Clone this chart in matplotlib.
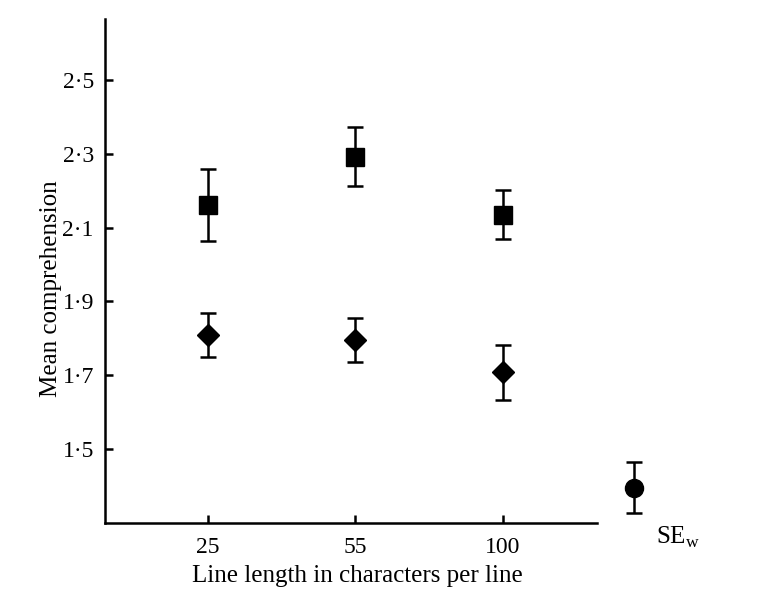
import matplotlib.pyplot as plt
import numpy as np

plt.rcParams['font.family'] = ['Liberation Serif', 'DejaVu Serif']
plt.rcParams['mathtext.fontset'] = 'custom'
plt.rcParams['mathtext.rm'] = 'Liberation Serif'

line_lengths = ['25', '55', '100']
square_means = [2.162, 2.292, 2.135]
square_err = [0.097, 0.08, 0.066]
diamond_means = [1.810, 1.796, 1.708]
diamond_err = [0.06, 0.06, 0.075]
sew_mean = 1.395
sew_err = 0.07

y_ticks = [1.5, 1.7, 1.9, 2.1, 2.3, 2.5]
y_tick_labels = ['1·5', '1·7', '1·9', '2·1', '2·3', '2·5']

fig = plt.figure(figsize=(7.68, 6.06), dpi=100)
ax = fig.add_axes([0.1367, 0.1375, 0.777 - 0.1367, 0.968 - 0.1375])

x = np.arange(len(line_lengths))
ekw = dict(fmt='none', ecolor='black', elinewidth=1.8, capsize=6, capthick=1.8)

ax.errorbar(x, square_means, yerr=square_err, **ekw)
ax.plot(x, square_means, 's', color='black', markersize=12.5, linestyle='none')
ax.errorbar(x, diamond_means, yerr=diamond_err, **ekw)
ax.plot(x, diamond_means, 'D', color='black', markersize=11.5, linestyle='none')

# within-subject SE marker sits outside the axes
sew_x = 2.89
eb = ax.errorbar([sew_x], [sew_mean], yerr=[sew_err], **ekw)
for a in eb.lines[1] + eb.lines[2]:
    a.set_clip_on(False)
ax.plot([sew_x], [sew_mean], 'o', color='black', markersize=13, clip_on=False)
ax.text(3.04, 1.242, r'SE$_{\mathrm{w}}$', fontsize=18, ha='left', va='baseline')

ax.set_xlim(-0.70, 2.64)
ax.set_ylim(1.30, 2.665)
ax.set_xticks(x)
ax.set_xticklabels(line_lengths)
ax.set_yticks(y_ticks)
ax.set_yticklabels(y_tick_labels)

ax.spines['top'].set_visible(False)
ax.spines['right'].set_visible(False)
for s in ['left', 'bottom']:
    ax.spines[s].set_linewidth(1.8)
ax.tick_params(direction='in', length=6, width=1.8, labelsize=17)
ax.tick_params(axis='x', pad=10)
ax.tick_params(axis='y', pad=8)

ax.set_xlabel('Line length in characters per line', fontsize=18)
ax.set_ylabel('Mean comprehension', fontsize=18)
ax.xaxis.set_label_coords(0.514, -0.085)
ax.yaxis.set_label_coords(-0.088, 0.465)

fig.savefig('out.png', dpi=100)
